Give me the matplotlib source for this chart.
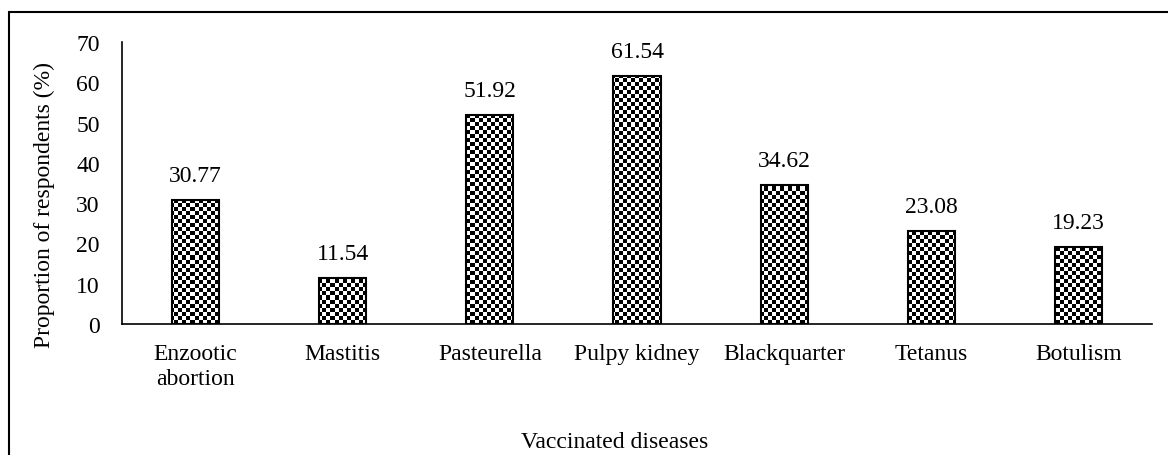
import matplotlib.pyplot as plt
import numpy as np
from matplotlib.patches import Rectangle

plt.rcParams['font.family'] = ['Liberation Serif', 'DejaVu Serif']

diseases = ['Enzootic\nabortion', 'Mastitis', 'Pasteurella', 'Pulpy kidney',
            'Blackquarter', 'Tetanus', 'Botulism']
proportions = [30.77, 11.54, 51.92, 61.54, 34.62, 23.08, 19.23]

fig = plt.figure(figsize=(11.68, 4.56), dpi=100)
ax = fig.add_axes([122 / 1168, 1 - 325 / 456, 1030 / 1168, 282 / 456])

x = np.arange(len(diseases))
bars = ax.bar(x, proportions, 0.32, facecolor='none', edgecolor='black',
              linewidth=1.5, zorder=3)

# checkerboard fill, clipped to each bar
cell = 4.0  # pixels
nx = int(1030 / cell)
ny = int(282 / cell)
board = (np.add.outer(np.arange(ny), np.arange(nx)) % 2).astype(float)
for rect in bars:
    im = ax.imshow(board, cmap='gray', interpolation='nearest',
                   extent=(0, 1, 0, 1), transform=ax.transAxes,
                   aspect='auto', zorder=2)
    im.set_clip_path(rect)

for rect, val in zip(bars, proportions):
    ax.annotate('{:.2f}'.format(val),
                xy=(rect.get_x() + rect.get_width() / 2, rect.get_height()),
                xytext=(0, 10), textcoords='offset points',
                ha='center', va='bottom', fontsize=17)

ax.set_xlim(-0.5, len(diseases) - 0.5)
ax.set_ylim(0, 70)
ax.set_yticks(range(0, 71, 10))
ax.set_xticks(x)
ax.set_xticklabels(diseases, fontsize=17, linespacing=1.25)
ax.tick_params(axis='y', labelsize=17, length=0, pad=16)
ax.tick_params(axis='x', length=0, pad=14)
for side in ['top', 'right']:
    ax.spines[side].set_visible(False)
for side in ['left', 'bottom']:
    ax.spines[side].set_linewidth(1.2)

fig.text(44 / 1168, 1 - 205 / 456, 'Proportion of respondents (%)',
         rotation=90, ha='center', va='center', fontsize=17)
fig.text(615 / 1168, 1 - 443 / 456, 'Vaccinated diseases', ha='center',
         va='center', fontsize=17)

# outer frame (only top and left visible in the cropped original)
fig.add_artist(Rectangle((9 / 1168, -0.05), 1.2, 1 - 13 / 456 + 0.05,
                         transform=fig.transFigure, fill=False,
                         edgecolor='black', linewidth=1.5))

fig.savefig('out.png', dpi=100)
